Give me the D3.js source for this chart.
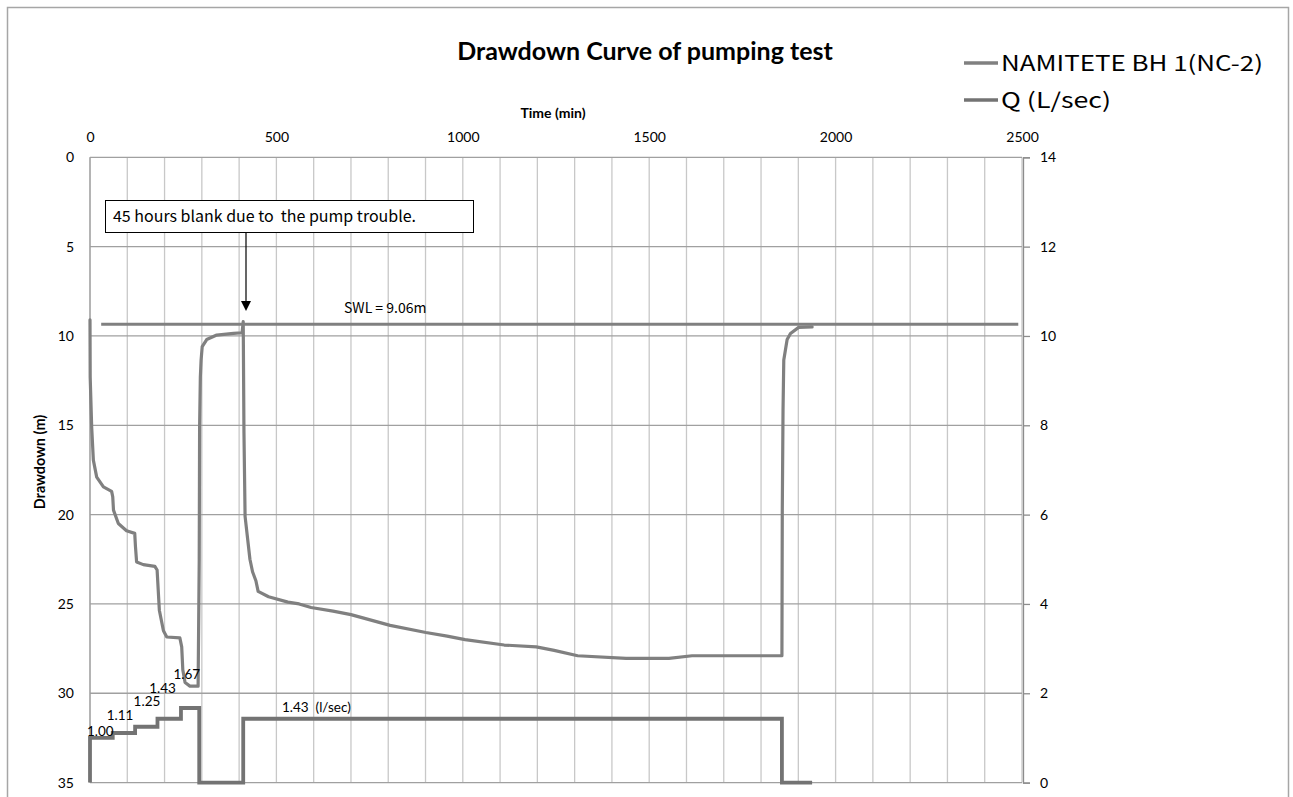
<!DOCTYPE html>
<html>
<head>
<meta charset="utf-8">
<script src="https://cdn.jsdelivr.net/npm/d3@7"></script>
<style>
  html, body { margin: 0; padding: 0; background: #fff; }
  svg { display: block; }
</style>
</head>
<body>
<svg id="chart" width="1293" height="797"></svg>
<script>
// ---------------- DATA ----------------
const timeTicks = [0, 500, 1000, 1500, 2000, 2500];
const drawdownTicks = [0, 5, 10, 15, 20, 25, 30, 35];
const qTicks = [0, 2, 4, 6, 8, 10, 12, 14];

// Drawdown series (time in min, drawdown in m)
const ddTime = [0, 0.5, 4.5, 9, 18, 36, 58, 61, 63, 76, 98, 120, 122, 125, 143, 174, 180, 186, 197, 206,
  241, 246, 249, 255, 268, 290, 293, 294, 296, 298, 301, 313, 340, 385, 408, 411, 413, 416, 429, 436,
  445, 451, 479, 531, 561, 593, 652, 700, 805, 901, 958, 1006, 1111, 1197, 1245, 1308, 1438, 1553, 1615,
  1856, 1857, 1859, 1861, 1870, 1879, 1901, 1937];
const ddValue = [9.1, 12.3, 15.1, 16.95, 17.9, 18.45, 18.7, 19.0, 19.75, 20.5, 20.9, 21.05, 21.8, 22.65, 22.8, 22.9, 23.1, 25.35, 26.5, 26.85,
  26.9, 27.4, 28.7, 29.4, 29.6, 29.6, 22.5, 15.1, 12.3, 11.35, 10.6, 10.2, 9.95, 9.86, 9.82, 9.2, 15.4, 20.1, 22.5, 23.2,
  23.7, 24.3, 24.6, 24.9, 25.0, 25.2, 25.4, 25.6, 26.2, 26.6, 26.8, 27.0, 27.3, 27.4, 27.6, 27.9, 28.05, 28.05, 27.9,
  27.9, 19.75, 14.15, 11.35, 10.2, 9.86, 9.52, 9.49];

// Pumping rate Q series (time in min, Q in L/sec)
const qTime = [0, 0, 61, 61, 121, 121, 181, 181, 244, 244, 293, 293, 411, 411, 1856, 1856, 1937];
const qValue = [0, 1.00, 1.00, 1.11, 1.11, 1.25, 1.25, 1.43, 1.43, 1.67, 1.67, 0, 0, 1.43, 1.43, 0, 0];

// Static water level line
const swlTime = [30, 2490];
const swlValue = [9.35, 9.35];

// Step labels on Q
const qLabelText = ["1.00", "1.11", "1.25", "1.43", "1.67"];
const qLabelTime = [-8, 45, 117, 159, 224];
const qLabelQ = [1.14, 1.50, 1.81, 2.12, 2.43];

const seriesNames = ["NAMITETE BH 1(NC-2)", "Q (L/sec)"];

// ---------------- LAYOUT ----------------
const svg = d3.select("#chart");
const plot = { left: 90, right: 1022, top: 157.3, bottom: 782.6 };

const x = d3.scaleLinear().domain([0, 2500]).range([plot.left, plot.right]);
const yL = d3.scaleLinear().domain([0, 35]).range([plot.top, plot.bottom]);
const yR = d3.scaleLinear().domain([0, 14]).range([plot.bottom, plot.top]);

const numFont = "Lato, 'Open Sans', sans-serif";
const jpFont = "'Noto Sans CJK JP', 'Noto Sans', sans-serif";

// outer border
svg.append("rect").attr("x", 7.5).attr("y", 7.5).attr("width", 1281).attr("height", 800)
  .attr("fill", "#fff").attr("stroke", "#a6a6a6").attr("stroke-width", 1.5);

// gridlines: vertical every 100
const vGrid = d3.range(0, 2501, 100);
svg.append("g").selectAll("line").data(vGrid).join("line")
  .attr("x1", d => x(d)).attr("x2", d => x(d))
  .attr("y1", plot.top).attr("y2", plot.bottom)
  .attr("stroke", "#c8c8c8").attr("stroke-width", 1.3);

// horizontal gridlines
svg.append("g").selectAll("line").data(drawdownTicks).join("line")
  .attr("x1", plot.left).attr("x2", plot.right)
  .attr("y1", d => yL(d)).attr("y2", d => yL(d))
  .attr("stroke", "#a0a0a0").attr("stroke-width", 1.3);

// left axis line
svg.append("line").attr("x1", plot.left).attr("x2", plot.left)
  .attr("y1", plot.top).attr("y2", plot.bottom).attr("stroke", "#a0a0a0").attr("stroke-width", 1.3);

// top axis
const topAxis = svg.append("g").attr("transform", `translate(0,${plot.top})`)
  .call(d3.axisTop(x).tickValues(timeTicks).tickSize(0).tickPadding(15).tickFormat(d3.format("d")));
topAxis.select(".domain").remove();
topAxis.selectAll("text").attr("font-family", numFont).attr("font-size", 14).attr("fill", "#000");

// left axis
const leftAxis = svg.append("g").attr("transform", `translate(${plot.left},0)`)
  .call(d3.axisLeft(yL).tickValues(drawdownTicks).tickSize(0).tickPadding(16).tickFormat(d3.format("d")));
leftAxis.select(".domain").remove();
leftAxis.selectAll("text").attr("font-family", numFont).attr("font-size", 14).attr("fill", "#000");

// right axis
const rightAxis = svg.append("g").attr("transform", `translate(${plot.right + 1},0)`)
  .call(d3.axisRight(yR).tickValues(qTicks).tickSize(7).tickPadding(10).tickFormat(d3.format("d")));
rightAxis.select(".domain").attr("stroke", "#8c8c8c").attr("stroke-width", 1.3);
rightAxis.selectAll(".tick line").attr("stroke", "#8c8c8c").attr("stroke-width", 1.3);
rightAxis.selectAll("text").attr("font-family", numFont).attr("font-size", 14).attr("fill", "#000");

// title & axis titles
svg.append("text").attr("x", 645).attr("y", 60).attr("text-anchor", "middle")
  .attr("font-family", numFont).attr("font-weight", "bold").attr("font-size", 25).attr("fill", "#000")
  .text("Drawdown Curve of pumping test");
svg.append("text").attr("x", 553).attr("y", 118).attr("text-anchor", "middle")
  .attr("font-family", numFont).attr("font-weight", "bold").attr("font-size", 14).attr("fill", "#000")
  .text("Time (min)");
svg.append("text").attr("transform", "translate(45,462) rotate(-90)").attr("text-anchor", "middle")
  .attr("font-family", numFont).attr("font-weight", "bold").attr("font-size", 14.5).attr("fill", "#000")
  .text("Drawdown (m)");

// SWL line
const swlData = swlTime.map((t, i) => [t, swlValue[i]]);
svg.append("path").datum(swlData)
  .attr("d", d3.line().x(d => x(d[0])).y(d => yL(d[1])))
  .attr("fill", "none").attr("stroke", "#808080").attr("stroke-width", 3);

// Drawdown series
const ddData = ddTime.map((t, i) => [t, ddValue[i]]);
svg.append("path").datum(ddData)
  .attr("d", d3.line().x(d => x(d[0])).y(d => yL(d[1])))
  .attr("fill", "none").attr("stroke", "#808080").attr("stroke-width", 3.2)
  .attr("stroke-linejoin", "round").attr("stroke-linecap", "round");

// Q series
const qData = qTime.map((t, i) => [t, qValue[i]]);
svg.append("path").datum(qData)
  .attr("d", d3.line().x(d => x(d[0])).y(d => yR(d[1])))
  .attr("fill", "none").attr("stroke", "#737373").attr("stroke-width", 3.8)
  .attr("stroke-linejoin", "miter");

// Q step labels
svg.append("g").selectAll("text").data(qLabelText).join("text")
  .attr("x", (d, i) => x(qLabelTime[i])).attr("y", (d, i) => yR(qLabelQ[i]))
  .attr("dy", "0.35em")
  .attr("font-family", numFont).attr("font-size", 13.5).attr("fill", "#000")
  .text(d => d);
svg.append("text").attr("x", x(515)).attr("y", yR(1.69)).attr("dy", "0.35em")
  .attr("font-family", numFont).attr("font-size", 13.5).attr("fill", "#000")
  .attr("xml:space", "preserve").text("1.43  (l/sec)");

// SWL label
svg.append("text").attr("x", 344).attr("y", 308).attr("dy", "0.35em")
  .attr("font-family", jpFont).attr("font-size", 14).attr("fill", "#000")
  .text("SWL = 9.06m");

// Annotation box and arrow
svg.append("rect").attr("x", 105.5).attr("y", 200.5).attr("width", 368).attr("height", 32)
  .attr("fill", "#fff").attr("stroke", "#000").attr("stroke-width", 1);
svg.append("text").attr("x", 113).attr("y", 216.5).attr("dy", "0.35em")
  .attr("font-family", jpFont).attr("font-size", 15.5).attr("fill", "#000")
  .attr("textLength", 303).attr("lengthAdjust", "spacingAndGlyphs")
  .attr("xml:space", "preserve").text("45 hours blank due to  the pump trouble.");
svg.append("line").attr("x1", 246).attr("x2", 246).attr("y1", 233).attr("y2", 303)
  .attr("stroke", "#000").attr("stroke-width", 1.2);
svg.append("path").attr("d", "M241,301 L251,301 L246,311 Z").attr("fill", "#000");

// Legend
const legendY = [63, 100];
const legendLen = [262, 110];
const legendColor = ["#808080", "#737373"];
const lg = svg.append("g");
seriesNames.forEach((name, i) => {
  lg.append("line").attr("x1", 964).attr("x2", 998).attr("y1", legendY[i]).attr("y2", legendY[i])
    .attr("stroke", legendColor[i]).attr("stroke-width", 3.5);
  lg.append("text").attr("x", 1001).attr("y", legendY[i]).attr("dy", "0.36em")
    .attr("font-family", jpFont).attr("font-size", 21).attr("fill", "#000")
    .attr("textLength", legendLen[i]).attr("lengthAdjust", "spacingAndGlyphs")
    .text(name);
});
</script>
</body>
</html>
